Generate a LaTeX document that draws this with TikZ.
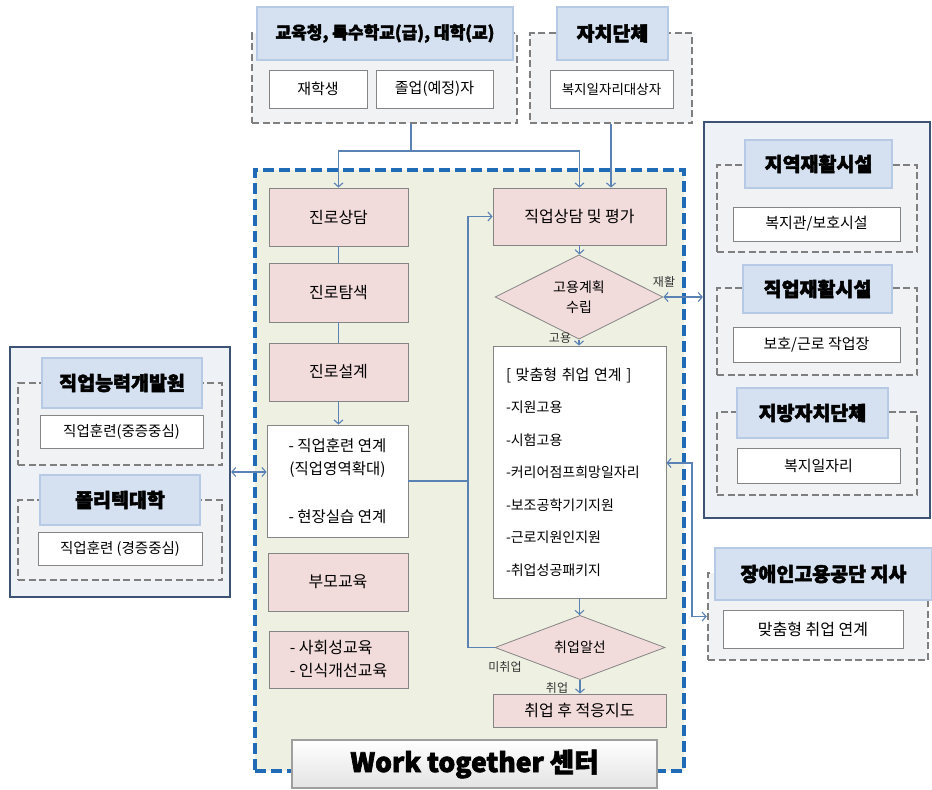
\documentclass[tikz,border=0pt]{standalone}
\usepackage{fontspec}
\setmainfont{Noto Sans CJK KR}
\newfontfamily\tfont{Noto Sans CJK KR}[FakeBold=2.5]
\usetikzlibrary{shapes.geometric,arrows.meta}
\definecolor{pinkf}{HTML}{F2DCDB}
\definecolor{boxline}{HTML}{858585}
\definecolor{titlef}{HTML}{D5E1F0}
\definecolor{titleline}{HTML}{B6CAE6}
\definecolor{grpf}{HTML}{F1F2F4}
\definecolor{grpline}{HTML}{7F7F7F}
\definecolor{panelf}{HTML}{EEF1F5}
\definecolor{panelline}{HTML}{3C5375}
\definecolor{wtf}{HTML}{EEF0E2}
\definecolor{wtline}{HTML}{1F6BB5}
\definecolor{arrowc}{HTML}{5B82B5}
\tikzset{
  every node/.style={inner sep=0pt, font=\fontsize{15}{18}\selectfont},
  sz/.style 2 args={minimum width=#1pt, minimum height=#2pt},
  pinkbox/.style={draw=boxline, fill=pinkf, line width=0.8pt, font=\fontsize{16}{19}\selectfont},
  whitebox/.style={draw=boxline, fill=white, line width=0.8pt},
  titlebox/.style={draw=titleline, fill=titlef, line width=1.8pt, font=\tfont\bfseries\fontsize{19.5}{22}\selectfont},
  grpbox/.style={draw=grpline, fill=grpf, dash pattern=on 7pt off 3.5pt, line width=2.4pt},
  panel/.style={draw=panelline, fill=panelf, line width=2.2pt},
  wtbox/.style={draw=wtline, fill=wtf, dash pattern=on 11pt off 5pt, line width=3.4pt},
  decide/.style={diamond, draw=boxline, fill=pinkf, line width=0.8pt, inner sep=0pt, align=center, font=\fontsize{14}{20}\selectfont},
  conn/.style={draw=arrowc, line width=1.1pt},
  arr/.style={conn, -{Straight Barb[length=4pt,width=9pt]}},
  darr/.style={conn, {Straight Barb[length=4pt,width=9pt]}-{Straight Barb[length=4pt,width=9pt]}},
  lbl/.style={font=\fontsize{12}{14}\selectfont, text=black!80}
}
\begin{document}
\begin{tikzpicture}[x=1pt,y=-1pt]
\useasboundingbox (0,0) rectangle (932,790);
\fill[white] (0,0) rectangle (932,790);

% side panels and centre
\node[panel, sz={226}{396}] (R) at (817,320) {};
\node[panel, sz={220}{250}] (L) at (120,472) {};
\node[wtbox, sz={429}{601}] (W) at (469.5,470.5) {};

% top groups
\node[grpbox, sz={265}{90}] (g1) at (384.5,78) {};
\node[titlebox, sz={256}{53}, font=\tfont\bfseries\fontsize{17}{19}\selectfont] (t1) at (385,33.5) {교육청, 특수학교(급), 대학(교)};
\node[whitebox, sz={98}{38}] (s1) at (318,89) {재학생};
\node[whitebox, sz={117}{38}] (s2) at (434.5,89) {졸업(예정)자};

\node[grpbox, sz={162}{90}] (g2) at (611,78) {};
\node[titlebox, sz={111}{53}] (t2) at (612.5,33.5) {자치단체};
\node[whitebox, sz={123}{38}, font=\fontsize{13.5}{16}\selectfont] (s3) at (611.5,89) {복지일자리대상자};

% right panel groups
\node[grpbox, sz={200}{87}] (ga) at (817,208.5) {};
\node[titlebox, sz={147}{48}] (ta) at (818.5,164) {지역재활시설};
\node[whitebox, sz={167}{34}] (sa) at (816.5,224) {복지관/보호시설};
\node[grpbox, sz={200}{87}] (gb) at (817,331.5) {};
\node[titlebox, sz={149}{48}] (tb) at (817.5,289) {직업재활시설};
\node[whitebox, sz={167}{35}] (sb) at (816.5,344.5) {보호/근로 작업장};
\node[grpbox, sz={200}{83}] (gc) at (817,453.5) {};
\node[titlebox, sz={151}{50}] (tc) at (812.5,413) {지방자치단체};
\node[whitebox, sz={163}{35}] (sc) at (818.5,465.5) {복지일자리};

% left panel groups
\node[grpbox, sz={204}{82}] (gd) at (120,424) {};
\node[titlebox, sz={160}{50}] (td) at (122,383) {직업능력개발원};
\node[whitebox, sz={163}{33}, font=\fontsize{14.5}{17}\selectfont] (sd) at (121.5,431.5) {직업훈련(중증중심)};
\node[grpbox, sz={204}{80}] (ge) at (120,540) {};
\node[titlebox, sz={160}{50}] (te) at (120,500) {폴리텍대학};
\node[whitebox, sz={164}{33}, font=\fontsize{14.5}{17}\selectfont] (se) at (120,548.5) {직업훈련 (경증중심)};

% bottom right group
\node[grpbox, sz={220}{87}] (gf) at (818,616.5) {};
\node[titlebox, sz={217}{52}] (tf) at (823.5,574) {장애인고용공단 지사};
\node[whitebox, sz={180}{38}, font=\fontsize{16}{19}\selectfont] (sf) at (813,629) {맞춤형 취업 연계};

% centre left column
\node[pinkbox, sz={139}{58}] (c1) at (338.5,217) {진로상담};
\node[pinkbox, sz={139}{59}] (c2) at (338.5,292.5) {진로탐색};
\node[pinkbox, sz={139}{58}] (c3) at (338.5,372) {진로설계};
\node[whitebox, sz={141}{112}, align=center, font=\fontsize{15.5}{23}\selectfont] (c4) at (337.5,481) {- 직업훈련 연계\\(직업영역확대)\\[25pt]- 현장실습 연계};
\node[pinkbox, sz={140}{58}] (c5) at (338,582) {부모교육};
\node[pinkbox, sz={139}{57}, align=left, font=\fontsize{16}{23}\selectfont] (c6) at (338.5,659.5) {- 사회성교육\\- 인식개선교육};

% centre right column
\node[pinkbox, sz={173}{57}] (jik) at (579.5,216.5) {직업상담 및 평가};
\node[decide, sz={168}{60}] (d1) at (579,297) {고용계획\\수립};
\node[whitebox, sz={173}{252}, align=left, text width=147pt, font=\fontsize{14}{32.5}\selectfont] (mat) at (579.5,472) {{\fontsize{15}{32.5}\selectfont[ 맞춤형 취업 연계 ]}\\-지원고용\\-시험고용\\-커리어점프희망일자리\\-보조공학기기지원\\-근로지원인지원\\-취업성공패키지};
\node[decide, sz={170}{59}] (d2) at (580,647.5) {취업알선};
\node[pinkbox, sz={173}{33}] (aft) at (579.5,710.5) {취업 후 적응지도};

% title of centre
\node[draw=gray!75, line width=1.2pt, top color=white, bottom color=gray!22, sz={365}{48}, font=\tfont\bfseries\fontsize{26.5}{30}\selectfont] (wt) at (474.5,764) {Work together 센터};

% connectors
\coordinate (j1) at (411,151);
\coordinate (kx) at (468,0);
\coordinate (m1) at (692,463);
\draw[conn] (g1.south -| j1) -- (j1);
\draw[arr] (j1) -| (c1.north);
\draw[arr] (j1) -| (jik.north);
\draw[arr] (g2.south) -- (g2.south |- jik.north);
\draw[conn] (c1) -- (c2);
\draw[conn] (c2) -- (c3);
\draw[arr] (c3.south) -- (c3.south |- c4.north);
\draw[arr] (jik.south) -- (jik.south |- d1.north);
\draw[arr] (d1.south) -- (d1.south |- mat.north);
\draw[arr] (mat.south) -- (mat.south |- d2.north);
\draw[arr] (d2.south) -- (d2.south |- aft.north);
\draw[arr] (d2.west) -- (d2.west -| kx) -- (jik.west -| kx) -- (jik.west);
\draw[conn] (c4.east) -- (c4.east -| kx);
\draw[darr] (d1.east) -- (d1.east -| R.west);
\draw[darr] (L.east) -- (L.east -| c4.west);
\draw[darr] (mat.east |- m1) -- (m1) |- (gf.west);

% labels
\node[lbl] (lb1) at (664,282) {재활};
\node[lbl] (lb2) at (560,338) {고용};
\node[lbl] (lb3) at (505,667) {미취업};
\node[lbl] (lb4) at (557,688) {취업};
\end{tikzpicture}
\end{document}
